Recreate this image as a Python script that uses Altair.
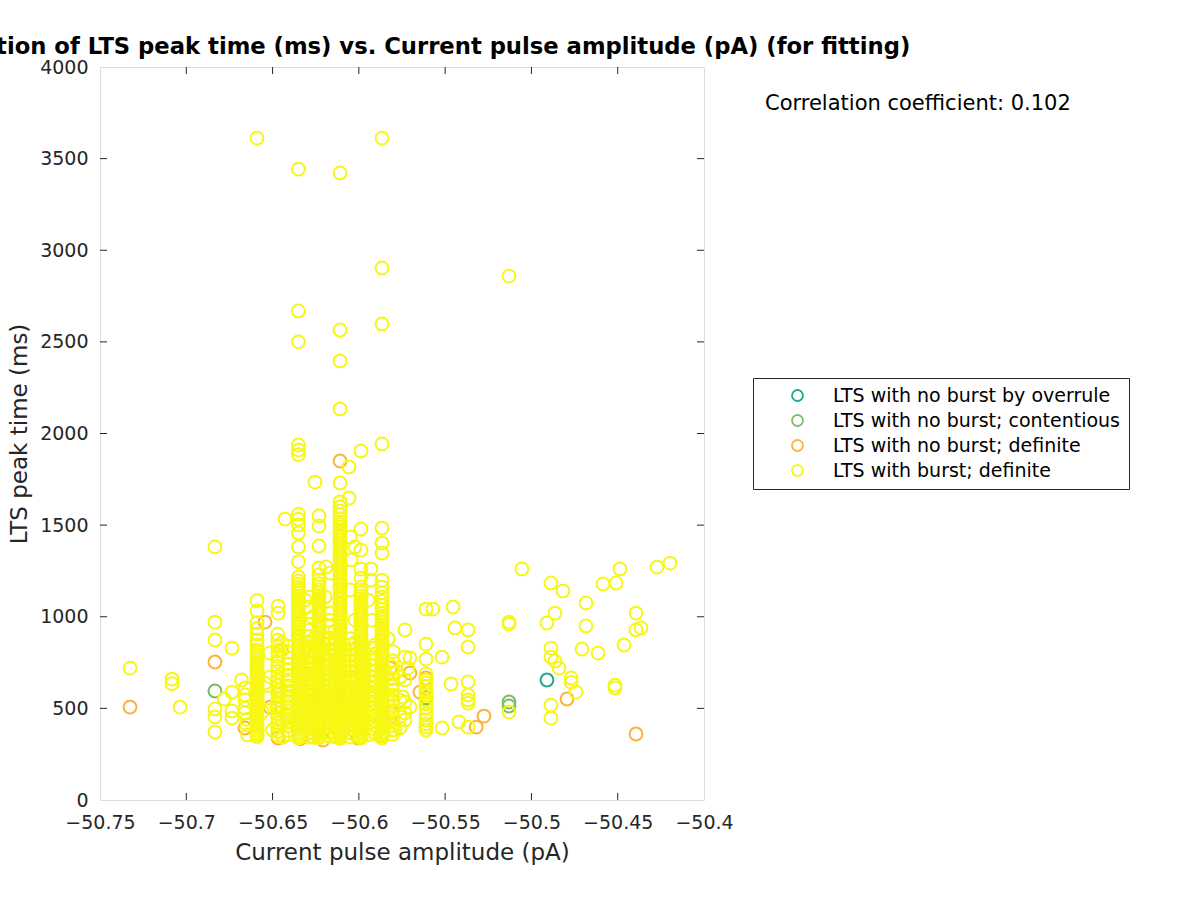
import altair as alt
import pandas as pd

GROUPS = ["LTS with no burst by overrule", "LTS with no burst; contentious",
          "LTS with no burst; definite", "LTS with burst; definite"]
COLORS = ["#1FA98E", "#7DBB6B", "#FDB33A", "#F7F714"]

TITLE = "Distribution of LTS peak time (ms) vs. Current pulse amplitude (pA) (for fitting)"
CORR_TEXT = "Correlation coefficient: 0.102"

X_TICKS = [-50.75, -50.7, -50.65, -50.6, -50.55, -50.5, -50.45, -50.4]
Y_TICKS = [0, 500, 1000, 1500, 2000, 2500, 3000, 3500, 4000]

# dense columns of "LTS with burst; definite"
col_x = [-50.6590, -50.6350, -50.6231, -50.6109, -50.5988, -50.5866, -50.5611,
         -50.6470, -50.6292, -50.6170, -50.6048,
         -50.6410, -50.6262, -50.6140, -50.6020, -50.5905, -50.5805]
col_y = [
    [3612, 1088, 1032, 968, 936, 905, 873, 846, 818, 805, 792, 779, 766, 752, 740, 727, 714, 701,
     688, 676, 663, 650, 637, 624, 611, 598, 586, 573, 560, 547, 534, 521, 509, 496, 483, 470,
     457, 444, 432, 419, 406, 393, 381, 368, 356, 345],
    [3443, 2669, 2500, 1937, 1910, 1885, 1560, 1533, 1501, 1457, 1381, 1300, 1217, 1195, 1178,
     1160, 1145, 1128, 1112, 1098, 1083, 1068, 1054, 1040, 1026, 1012, 998, 984, 970, 956, 942,
     928, 914, 900, 886, 872, 858, 844, 830, 816, 802, 789, 776, 763, 750, 737, 724, 711, 698,
     685, 672, 659, 646, 633, 620, 607, 594, 581, 568, 555, 542, 529, 516, 503, 490, 477, 464,
     451, 438, 425, 412, 399, 386, 373, 360, 348, 338],
    [1550, 1495, 1386, 1266, 1230, 1200, 1180, 1162, 1146, 1130, 1115, 1100, 1085, 1070, 1055,
     1041, 1027, 1013, 999, 985, 971, 957, 943, 929, 915, 901, 887, 873, 859, 845, 831, 817, 803,
     790, 777, 764, 751, 738, 725, 712, 699, 686, 673, 660, 647, 634, 621, 608, 595, 582, 569,
     556, 543, 530, 517, 504, 491, 478, 465, 452, 439, 426, 413, 400, 387, 374, 361, 349, 340],
    [3422, 2565, 2396, 2134, 1730, 1626, 1600, 1578, 1556, 1535, 1518, 1502, 1487, 1472, 1458,
     1444, 1430, 1416, 1402, 1388, 1374, 1360, 1346, 1332, 1318, 1304, 1290, 1276, 1262, 1248,
     1234, 1220, 1206, 1192, 1178, 1164, 1150, 1136, 1122, 1108, 1094, 1080, 1066, 1052, 1038,
     1024, 1010, 996, 982, 968, 954, 940, 926, 912, 898, 884, 870, 856, 842, 828, 814, 800, 787,
     774, 761, 748, 735, 722, 709, 696, 683, 670, 657, 644, 631, 618, 605, 592, 579, 566, 553,
     540, 527, 514, 501, 488, 475, 462, 449, 436, 423, 410, 397, 384, 371, 358, 346, 336],
    [1905, 1479, 1364, 1260, 1210, 1162, 1145, 1130, 1114, 1099, 1084, 1069, 1055, 1041, 1027,
     1013, 999, 985, 971, 957, 943, 929, 915, 901, 887, 873, 859, 845, 831, 817, 803, 790, 777,
     764, 751, 738, 725, 712, 699, 686, 673, 660, 647, 634, 621, 608, 595, 582, 569, 556, 543,
     530, 517, 504, 491, 478, 465, 452, 439, 426, 413, 400, 387, 374, 361, 349, 339],
    [3612, 2903, 2598, 1943, 1484, 1402, 1348, 1200, 1162, 1130, 1108, 1085, 1062, 1040, 1020,
     1003, 987, 972, 957, 942, 928, 914, 900, 886, 872, 858, 844, 830, 816, 802, 789, 776, 763,
     750, 737, 724, 711, 698, 685, 672, 659, 646, 633, 620, 607, 594, 581, 568, 555, 542, 529,
     516, 503, 490, 477, 464, 451, 438, 425, 412, 399, 386, 373, 360, 348, 338],
    [1042, 851, 769, 688, 655, 639, 620, 600, 589, 573, 546, 525, 502, 470, 437, 415, 398, 382],
    # between-column clusters
    [905, 872, 841, 812, 784, 756, 729, 701, 676, 650, 624, 598, 572, 547, 521, 496, 471, 447,
     422, 398, 374, 352],
    [960, 925, 893, 862, 833, 804, 776, 748, 721, 694, 668, 642, 616, 590, 565, 539, 514, 489,
     463, 439, 414, 390, 366, 344],
    [1020, 982, 948, 915, 884, 853, 823, 794, 765, 737, 709, 682, 655, 628, 601, 575, 549, 523,
     497, 472, 446, 421, 396, 371, 348],
    [880, 848, 817, 787, 758, 729, 701, 673, 646, 619, 592, 566, 540, 514, 489, 463, 438, 413,
     389, 365, 343],
    [840, 806, 775, 742, 712, 681, 652, 622, 594, 566, 538, 511, 484, 457, 431, 405, 380, 357],
    [880, 846, 813, 781, 750, 719, 689, 660, 631, 602, 574, 546, 519, 492, 466, 440, 414, 389,
     365, 342],
    [920, 884, 850, 817, 785, 753, 722, 692, 662, 633, 604, 576, 548, 521, 494, 468, 442, 416,
     391, 367, 345],
    [860, 827, 795, 764, 733, 703, 674, 645, 617, 589, 561, 534, 507, 481, 455, 429, 404, 380,
     357],
    [830, 797, 766, 735, 705, 676, 647, 619, 591, 564, 537, 511, 485, 459, 434, 409, 385, 362],
    [760, 726, 694, 662, 631, 601, 572, 543, 515, 487, 460, 433, 407, 382, 358],
]

# scattered "LTS with burst; definite"
burst_x = [-50.7326, -50.7083, -50.7083, -50.7036, -50.6834, -50.6834, -50.6834, -50.6834,
           -50.6834, -50.6834, -50.6735, -50.6735, -50.6735, -50.6735, -50.6780, -50.6680,
           -50.6660, -50.6660, -50.6660, -50.6660, -50.6660, -50.6650, -50.6650, -50.6645,
           -50.6468, -50.6468, -50.6428, -50.6445, -50.6445, -50.6515, -50.6515, -50.6545,
           -50.6457, -50.6527, -50.6475, -50.6440, -50.6500, -50.6440, -50.6399, -50.6560,
           -50.6420,
           -50.6312, -50.6283, -50.6295, -50.6271, -50.6312, -50.6283, -50.6271, -50.6306,
           -50.6254, -50.6290, -50.6295,
           -50.6190, -50.6167, -50.6196, -50.6167, -50.6180, -50.6138, -50.6196, -50.6167,
           -50.6138, -50.6184, -50.6150,
           -50.6057, -50.6057, -50.6050, -50.6022, -50.6045, -50.6051, -50.6022, -50.6051,
           -50.6040, -50.6022,
           -50.5930, -50.5930, -50.5947, -50.5924, -50.5907, -50.5936, -50.5924, -50.5901,
           -50.5947,
           -50.5830, -50.5802, -50.5733, -50.5733, -50.5704, -50.5716, -50.5762, -50.5733,
           -50.5745, -50.5762, -50.5733, -50.5704, -50.5733, -50.5762, -50.5733, -50.5762,
           -50.5790, -50.5810, -50.5780,
           -50.5571, -50.5518, -50.5518, -50.5466, -50.5454, -50.5443, -50.5420, -50.5367,
           -50.5367, -50.5367, -50.5367, -50.5367, -50.5367, -50.5367,
           -50.5130, -50.5130, -50.5130, -50.5130, -50.5055,
           -50.4910, -50.4887, -50.4887, -50.4887, -50.4887, -50.4887, -50.4863, -50.4863,
           -50.4840, -50.4817, -50.4770, -50.4770, -50.4742, -50.4707, -50.4684, -50.4684,
           -50.4614, -50.4585, -50.4516, -50.4516, -50.4510, -50.4487, -50.4464, -50.4394,
           -50.4394, -50.4365, -50.4272, -50.4197]
burst_y = [720, 660, 635, 507, 1381, 971, 873, 497, 453, 371, 829, 589, 486, 447, 551, 655,
           611, 573, 546, 502, 475, 440, 410, 355,
           1058, 1020, 1533, 857, 819, 802, 671, 638, 600, 557, 508, 437, 382, 344, 655, 480,
           464,
           1091, 1108, 1053, 999, 819, 737, 600, 546, 1735, 464, 409,
           1272, 1239, 1108, 1020, 873, 764, 600, 518, 437, 355, 819,
           1817, 1648, 1435, 1381, 1310, 1146, 982, 819, 655, 491,
           1261, 1200, 1091, 982, 846, 709, 573, 464, 355,
           880, 810, 928, 780, 775, 720, 671, 655, 562, 546, 535, 508, 475, 453, 437, 393, 382,
           620, 700,
           1042, 780, 393, 633, 1053, 939, 426, 928, 835, 644, 573, 546, 529, 398,
           2859, 971, 960, 480, 1261,
           966, 1184, 829, 780, 518, 447, 1020, 759, 720, 1141, 666, 642, 589, 824, 1075, 950,
           802, 1179, 611, 626, 1184, 1261, 846, 1020, 928, 939, 1271, 1293]

# "LTS with no burst; definite"
nodef_x = [-50.7326, -50.6834, -50.6660, -50.6544, -50.6109, -50.5704, -50.5646, -50.5611,
           -50.5275, -50.5320, -50.4794, -50.4394, -50.6468, -50.6208, -50.6004, -50.6340,
           -50.6450, -50.6515, -50.5819, -50.5808, -50.5870]
nodef_y = [507, 753, 393, 971, 1850, 693, 589, 666, 458, 398, 551, 360, 338, 327, 338, 335,
           819, 507, 720, 475, 352]

# "LTS with no burst; contentious"
cont_x = [-50.6834, -50.5130, -50.5130, -50.5611, -50.6350, -50.6231, -50.6109, -50.5988]
cont_y = [595, 535, 513, 557, 960, 590, 560, 520]

# "LTS with no burst by overrule"
over_x = [-50.4910]
over_y = [655]

rows = []
for gi, (xs_, ys_) in enumerate([(over_x, over_y), (cont_x, cont_y), (nodef_x, nodef_y)]):
    for x, y in zip(xs_, ys_):
        rows.append({"x": x, "y": y, "g": GROUPS[gi]})
for cx, ys_ in zip(col_x, col_y):
    for y in ys_:
        rows.append({"x": cx, "y": y, "g": GROUPS[3]})
for x, y in zip(burst_x, burst_y):
    rows.append({"x": x, "y": y, "g": GROUPS[3]})
df = pd.DataFrame(rows)
df["i"] = range(len(df))

W, H = 604, 733
FONT = "DejaVu Sans"
AX = "#262626"

xs = alt.Scale(domain=[-50.75, -50.4], nice=False, zero=False)
ys = alt.Scale(domain=[0, 4000], nice=False)

points = alt.Chart(df).mark_point(shape="circle", filled=False, size=165, strokeWidth=2, opacity=1).encode(
    x=alt.X("x:Q", scale=xs,
            axis=alt.Axis(values=X_TICKS, format="~g", tickSize=0, domain=False, grid=False,
                          labelOverlap=False, labelFontSize=19, labelPadding=13, labelColor=AX,
                          labelFont=FONT, labelFlush=False,
                          title="Current pulse amplitude (pA)", titleFontSize=23, titleFont=FONT,
                          titleFontWeight="normal", titleColor=AX, titlePadding=9)),
    y=alt.Y("y:Q", scale=ys,
            axis=alt.Axis(values=Y_TICKS, format="d", tickSize=0, domain=False, grid=False,
                          labelOverlap=False, labelFontSize=19, labelPadding=12, labelColor=AX,
                          labelFont=FONT, labelFlush=False,
                          title="LTS peak time (ms)", titleFontSize=23, titleFont=FONT,
                          titleFontWeight="normal", titleColor=AX, titlePadding=8)),
    color=alt.Color("g:N", scale=alt.Scale(domain=GROUPS, range=COLORS),
                    legend=alt.Legend(title=None, orient="none", legendX=653, legendY=311,
                                      labelFontSize=19, labelFont=FONT, labelColor="#000000",
                                      labelLimit=500, symbolType="circle", symbolSize=120,
                                      symbolStrokeWidth=1.8, symbolOffset=27, labelOffset=26,
                                      rowPadding=5, padding=8, strokeColor=AX, fillColor="white",
                                      cornerRadius=0)),
    order=alt.Order("i:Q"),
)

xt = pd.DataFrame({"v": X_TICKS[1:-1]})
yt = pd.DataFrame({"v": Y_TICKS[1:-1]})
tick_bottom = alt.Chart(xt).mark_rule(color=AX, strokeWidth=1).encode(
    x=alt.X("v:Q", scale=xs), y=alt.value(H), y2=alt.value(H - 7))
tick_top = alt.Chart(xt).mark_rule(color=AX, strokeWidth=1).encode(
    x=alt.X("v:Q", scale=xs), y=alt.value(0), y2=alt.value(7))
tick_left = alt.Chart(yt).mark_rule(color=AX, strokeWidth=1).encode(
    y=alt.Y("v:Q", scale=ys), x=alt.value(0), x2=alt.value(7))
tick_right = alt.Chart(yt).mark_rule(color=AX, strokeWidth=1).encode(
    y=alt.Y("v:Q", scale=ys), x=alt.value(W), x2=alt.value(W - 7))

title = alt.Chart(pd.DataFrame({"t": [TITLE]})).mark_text(
    font=FONT, fontSize=22.7, fontWeight="bold", color="#000000", align="center", baseline="middle"
).encode(text="t:N", x=alt.value(W / 2), y=alt.value(-20))

corr = alt.Chart(pd.DataFrame({"t": [CORR_TEXT]})).mark_text(
    font=FONT, fontSize=21, color="#000000", align="left", baseline="middle"
).encode(text="t:N", x=alt.value(665), y=alt.value(37))

chart = alt.layer(points, tick_bottom, tick_top, tick_left, tick_right, title, corr).properties(
    width=W, height=H,
    autosize=alt.AutoSizeParams(type="none"),
    padding={"left": 100, "top": 67, "right": 496, "bottom": 100},
).configure_view(stroke=AX, strokeWidth=1).configure(background="white")

chart.save("out.html", embed_options={"renderer": "svg", "actions": False})
